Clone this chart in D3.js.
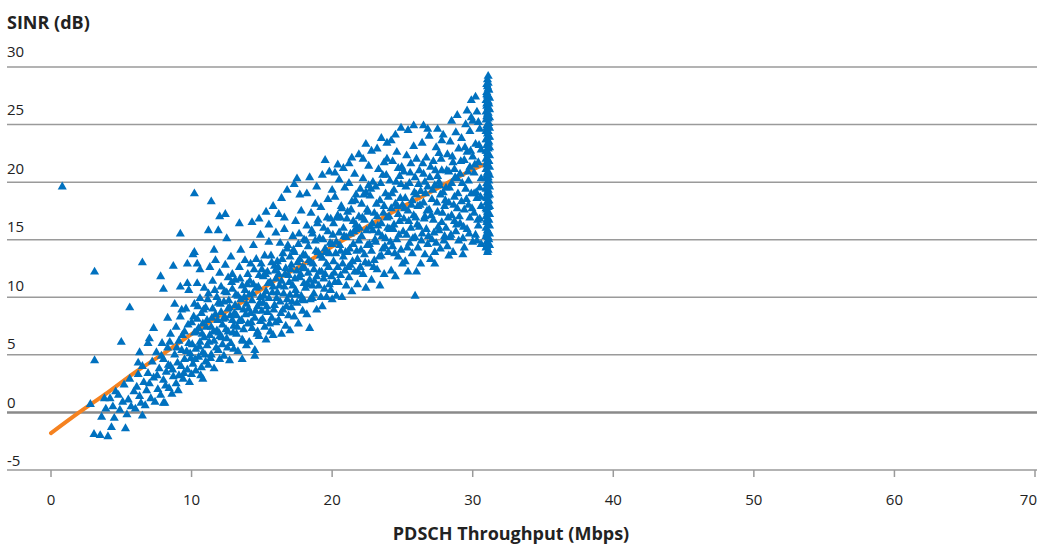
<!DOCTYPE html>
<html>
<head>
<meta charset="utf-8">
<script src="https://cdn.jsdelivr.net/npm/d3@7"></script>
<style>
  body { margin: 0; background: #fff; }
  text { font-family: "Open Sans", "Noto Sans", sans-serif; fill: #222; }
</style>
</head>
<body>
<script>
// tick labels
var xTicks = [0, 10, 20, 30, 40, 50, 60, 70];
var yTicks = [-5, 0, 5, 10, 15, 20, 25, 30];

// scattered points, [throughput Mbps, SINR dB]
var outliers = [[0.8,19.6],[3.1,12.2],[3.1,4.5],[5.0,6.1],[5.6,9.1],[6.5,13.0],[9.2,15.5],[10.2,19.0],[25.9,10.1],
  [11.4,18.3],[12.0,17.0],[12.4,17.2],[11.2,15.8],[11.9,15.8],[12.5,15.1],[11.6,14.1]];

var lowCloud = [[2.8,0.7],[3.06,-1.9],[3.5,-2.0],[4.05,-2.1],[3.6,-0.4],[4.3,-1.3],[4.5,-0.5],[5.3,-1.4],[3.8,1.2],[4.2,1.2],
  [3.9,0.3],[4.6,1.8],[4.4,0.5],[4.9,0.2],[4.8,1.5],[5.1,0.9],[5.2,2.4],[5.5,1.1],[5.4,-0.2],[5.7,0.5],[5.9,1.8],[5.6,2.9],
  [6.0,0.3],[6.1,2.2],[6.3,1.4],[6.2,3.3],[6.4,0.8],[6.6,2.6],[6.5,4.0],[6.8,1.9],[6.7,0.6],[6.9,3.4],[7.0,2.5],[7.1,1.2],
  [7.2,4.4],[7.3,3.0],[7.4,0.9],[7.5,5.2],[7.6,2.0],[7.7,3.8],[7.8,1.5],[7.9,6.0],[8.0,2.8],[8.0,4.6],[8.1,0.8],[8.2,3.5],
  [8.3,5.6],[8.4,2.1],[8.5,6.8],[8.5,4.0],[8.6,1.6],[8.7,3.1],[8.8,5.0],[8.9,7.4],[8.9,2.5],[9.0,4.3],[9.1,6.2],[9.1,3.2],
  [9.2,8.3],[9.3,5.4],[9.4,2.9],[9.5,7.0],[9.5,4.6],[9.6,9.0],[9.7,3.7],[9.8,6.0],[9.8,10.6],[9.9,5.1],[10.0,7.8],[10.0,3.3],
  [7.8,11.8],[8.0,10.7],[8.7,12.7],[9.2,10.9],[9.7,11.2],[9.7,12.9],[10.4,12.9],[10.1,13.7],[7.0,6.4],[6.9,6.0],[6.3,5.2],
  [6.2,4.3],[6.5,-0.3],[8.0,0.8],[8.3,8.2],[8.8,9.4],[9.3,8.9],[7.3,7.3]];

var midCloud = [
  [10.1,4.2],[10.2,6.9],[10.2,9.4],[10.3,3.6],[10.3,5.5],[10.4,8.1],[10.4,11.2],[10.5,4.8],[10.5,7.3],[10.6,6.1],[10.6,9.9],
  [10.7,3.9],[10.7,8.6],[10.8,5.2],[10.8,7.7],[10.9,10.8],[10.9,6.5],[11.0,4.4],[11.0,9.1],[10.6,12.4],[10.2,13.9],[10.8,2.9],
  [11.1,5.8],[11.1,8.0],[11.2,4.1],[11.2,10.3],[11.3,6.7],[11.3,12.6],[11.4,7.4],[11.4,5.0],[11.5,9.0],[11.5,11.4],[11.6,6.2],
  [11.6,3.8],[11.7,8.5],[11.7,13.2],[11.8,7.1],[11.8,10.0],[11.9,5.4],[11.9,9.5],[12.0,6.6],[12.0,12.1],[12.0,4.6],
  [12.1,8.7],[12.1,10.9],[12.2,5.9],[12.2,7.6],[12.3,9.6],[12.3,4.9],[12.4,12.8],[12.4,8.2],[12.5,6.4],[12.5,10.4],[12.6,7.0],
  [12.6,11.7],[12.7,4.5],[12.7,9.1],[12.8,6.0],[12.8,13.5],[12.9,8.0],[12.9,10.7],[13.0,5.5],[13.0,7.5],[12.9,12.0],[12.6,9.0],
  [13.1,9.3],[13.1,11.5],[13.2,6.8],[13.2,8.4],[13.3,10.1],[13.3,5.3],[13.4,12.6],[13.4,7.9],[13.5,9.8],[13.5,14.1],[13.6,6.3],
  [13.6,11.0],[13.7,8.9],[13.7,7.2],[13.8,10.6],[13.8,13.2],[13.9,5.8],[13.9,9.4],[14.0,12.0],[14.0,7.7],[13.4,16.4],[13.6,4.6],
  [14.1,10.2],[14.1,6.1],[14.2,8.6],[14.2,12.9],[14.3,9.7],[14.3,7.3],[14.4,11.1],[14.4,14.5],[14.5,5.4],[14.5,8.2],[14.6,10.8],
  [14.6,13.3],[14.7,7.0],[14.7,9.2],[14.8,11.9],[14.8,6.6],[14.9,10.0],[14.9,15.4],[15.0,8.8],[15.0,12.4],[14.3,16.5],[14.8,16.8],[14.5,4.9],[14.9,7.9],
  [15.1,9.5],[15.1,11.8],[15.2,7.4],[15.2,13.6],[15.3,10.5],[15.3,6.3],[15.4,8.7],[15.4,12.2],[15.5,14.8],[15.5,9.9],[15.6,7.0],
  [15.6,11.3],[15.7,13.0],[15.7,8.2],[15.8,10.9],[15.8,6.7],[15.9,12.7],[15.9,9.3],[16.0,15.6],[16.0,11.6],[15.3,17.4],[15.8,17.9],[15.5,16.3],[16.0,7.8],
  [16.1,10.4],[16.1,13.1],[16.2,8.0],[16.2,12.0],[16.3,14.7],[16.3,9.6],[16.4,6.8],[16.4,11.4],[16.5,13.8],[16.5,8.9],[16.6,10.9],
  [16.6,15.9],[16.7,7.5],[16.7,12.5],[16.8,9.8],[16.8,14.2],[16.9,11.9],[16.9,8.4],[17.0,13.5],[17.0,10.2],[16.4,18.6],[16.8,19.3],[16.2,17.2],[16.6,16.9],[17.0,7.1],
  [17.1,12.8],[17.1,9.1],[17.2,15.3],[17.2,11.0],[17.3,8.3],[17.3,13.9],[17.4,10.6],[17.4,16.6],[17.5,12.3],[17.5,9.5],[17.6,14.6],
  [17.6,7.7],[17.7,11.7],[17.7,13.3],[17.8,10.1],[17.8,17.5],[17.9,12.6],[17.9,8.8],[18.0,15.0],[18.0,11.2],[17.3,19.8],[17.7,18.9],[17.5,20.3],[18.0,9.7],
  [18.1,13.6],[18.1,10.8],[18.2,16.2],[18.2,8.5],[18.3,12.1],[18.3,14.4],[18.4,7.3],[18.4,11.5],[18.5,17.3],[18.5,13.0],[18.6,9.9],
  [18.6,15.5],[18.7,12.4],[18.7,10.3],[18.8,14.9],[18.8,18.1],[18.9,11.8],[18.9,8.9],[19.0,13.9],[19.0,16.7],[18.4,20.4],[18.9,19.6],[18.2,19.0],[18.6,11.0],
  [19.1,12.2],[19.1,15.1],[19.2,10.0],[19.2,17.8],[19.3,13.4],[19.3,9.2],[19.4,16.0],[19.4,11.6],[19.5,21.9],[19.5,14.2],[19.6,10.0],
  [19.6,12.9],[19.7,18.5],[19.7,15.7],[19.8,11.1],[19.8,13.8],[19.9,16.8],[19.9,10.6],[20.0,14.6],[20.0,19.3],[19.3,20.6],[19.8,20.9],[19.5,12.0],[20.0,9.8]];

var highCloud = [
  [20.1,13.1],[20.1,16.4],[20.2,11.3],[20.2,18.7],[20.3,14.8],[20.3,10.1],[20.4,17.1],[20.4,12.6],[20.5,15.6],[20.5,20.2],[20.6,11.9],
  [20.6,14.0],[20.7,17.7],[20.7,10.0],[20.8,13.5],[20.8,16.0],[20.9,19.5],[20.9,12.3],[21.0,15.2],[21.0,11.0],[20.4,21.5],[20.8,21.2],[20.2,20.8],[20.6,16.9],
  [21.1,13.9],[21.1,17.4],[21.2,11.7],[21.2,19.9],[21.3,15.5],[21.3,12.8],[21.4,18.3],[21.4,10.5],[21.5,14.6],[21.5,16.6],[21.6,20.7],
  [21.6,12.2],[21.7,15.9],[21.7,18.9],[21.8,13.3],[21.8,11.1],[21.9,17.0],[21.9,14.9],[22.0,19.4],[22.0,12.6],[21.4,22.1],[21.9,22.4],[21.2,21.6],[21.7,16.3],
  [22.1,15.3],[22.1,18.1],[22.2,12.0],[22.2,20.3],[22.3,16.7],[22.3,13.7],[22.4,10.8],[22.4,19.1],[22.5,14.5],[22.5,17.6],[22.6,21.4],
  [22.6,12.9],[22.7,16.1],[22.7,18.8],[22.8,14.0],[22.8,11.5],[22.9,20.0],[22.9,15.8],[23.0,17.3],[23.0,13.2],[22.4,23.3],[22.8,22.7],[22.2,22.0],[22.6,19.7],
  [23.1,14.8],[23.1,19.6],[23.2,12.4],[23.2,17.0],[23.3,21.1],[23.3,15.6],[23.4,11.0],[23.4,18.4],[23.5,13.6],[23.5,16.4],[23.6,20.6],
  [23.6,14.2],[23.7,17.9],[23.7,12.0],[23.8,19.0],[23.8,15.1],[23.9,22.0],[23.9,16.9],[24.0,13.9],[24.0,18.7],[23.5,23.8],[23.9,23.4],[23.2,22.9],[23.7,21.7],
  [24.1,15.9],[24.1,20.1],[24.2,12.3],[24.2,17.7],[24.3,14.4],[24.3,21.8],[24.4,16.3],[24.4,19.3],[24.5,11.8],[24.5,18.1],[24.6,15.0],
  [24.6,22.6],[24.7,17.2],[24.7,13.5],[24.8,20.5],[24.8,16.6],[24.9,14.1],[24.9,19.8],[25.0,18.0],[25.0,12.9],[24.5,24.1],[24.9,24.7],[24.2,23.6],[24.7,21.2],
  [25.1,16.8],[25.1,20.9],[25.2,13.1],[25.2,18.6],[25.3,15.4],[25.3,22.3],[25.4,17.5],[25.4,12.2],[25.5,19.9],[25.5,14.7],[25.6,21.6],
  [25.6,16.0],[25.7,18.4],[25.7,13.8],[25.8,23.1],[25.8,17.1],[25.9,15.2],[25.9,20.4],[26.0,12.2],[26.0,18.9],[25.4,24.5],[25.8,24.9],[26.0,22.0],
  [26.1,17.9],[26.1,14.3],[26.2,21.0],[26.2,16.1],[26.3,19.2],[26.3,12.9],[26.4,23.4],[26.4,15.5],[26.5,18.2],[26.5,20.7],[26.6,13.7],
  [26.6,17.0],[26.7,22.1],[26.7,15.9],[26.8,19.6],[26.8,14.6],[26.9,24.0],[26.9,17.6],[27.0,21.3],[27.0,13.3],[26.5,24.9],[26.8,24.6],[26.6,20.0],
  [27.1,18.5],[27.1,15.0],[27.2,21.8],[27.2,16.7],[27.3,19.7],[27.3,13.9],[27.4,23.0],[27.4,14.7],[27.5,17.4],[27.5,20.5],[27.6,15.8],
  [27.6,22.5],[27.7,18.9],[27.7,14.2],[27.8,21.0],[27.8,16.5],[27.9,24.1],[27.9,19.1],[28.0,15.3],[28.0,17.9],[27.5,24.6],[27.8,23.6],[27.3,12.9],[27.6,20.0],
  [28.1,19.5],[28.1,16.0],[28.2,22.4],[28.2,14.4],[28.3,18.2],[28.3,20.9],[28.4,15.2],[28.4,23.5],[28.5,17.1],[28.5,19.9],[28.6,13.9],
  [28.6,21.7],[28.7,16.6],[28.7,18.7],[28.8,24.3],[28.8,15.7],[28.9,20.3],[28.9,17.7],[29.0,22.9],[29.0,14.9],[28.5,25.3],[28.9,25.8],[28.3,13.6],[28.7,21.1],
  [29.1,20.7],[29.1,16.4],[29.2,23.8],[29.2,18.3],[29.3,15.1],[29.3,13.7],[29.4,21.9],[29.4,17.6],[29.5,19.4],[29.5,25.0],[29.6,15.9],
  [29.6,22.6],[29.7,18.0],[29.7,20.1],[29.8,24.4],[29.8,16.9],[29.9,27.1],[29.9,19.0],[30.0,14.8],[30.0,22.2],[29.6,26.2],[29.9,25.6],[29.4,14.3],[29.8,21.3],
  [30.1,17.3],[30.1,20.8],[30.2,15.4],[30.2,23.3],[30.3,18.6],[30.3,26.1],[30.4,16.2],[30.4,21.7],[30.5,19.5],[30.5,24.6],[30.6,14.6],
  [30.6,22.8],[30.2,27.4],[30.4,25.2],[30.6,17.9],[30.1,19.0],[30.3,14.9],[30.5,16.8],[30.6,20.3],[30.0,25.3]];

// denser core of the cloud, close to the trend
var coreCloud = [
  [7.55,3.2],[7.85,4.9],[8.15,2.3],[8.35,4.1],[8.45,6.1],[8.65,3.7],[8.95,5.6],[9.05,1.9],[9.25,4.0],[9.35,6.7],[9.45,3.4],
  [9.65,5.3],[9.75,7.6],[9.85,2.6],[9.95,4.7],
  [10.05,5.9],[10.15,8.3],[10.25,4.6],[10.35,7.0],[10.45,9.2],[10.55,5.7],[10.65,3.2],[10.75,6.8],[10.85,8.9],[10.95,5.0],
  [11.05,7.4],[11.15,9.8],[11.25,6.1],[11.35,4.7],[11.45,8.2],[11.55,7.0],[11.65,10.6],[11.75,5.6],[11.85,8.0],[11.95,6.9],
  [12.05,9.4],[12.15,6.5],[12.25,8.1],[12.35,10.5],[12.45,7.2],[12.55,5.6],[12.65,9.7],[12.75,8.4],[12.85,11.3],[12.95,6.9],
  [13.05,8.6],[13.15,10.2],[13.25,7.4],[13.35,9.1],[13.45,11.6],[13.55,8.0],[13.65,6.2],[13.75,10.0],[13.85,8.5],[13.95,11.1],
  [14.05,9.0],[14.15,11.4],[14.25,7.8],[14.35,10.3],[14.45,12.4],[14.55,8.8],[14.65,6.8],[14.75,10.9],[14.85,9.5],[14.95,12.9],
  [15.05,8.1],[15.15,10.1],[15.25,12.0],[15.35,9.2],[15.45,11.2],[15.55,7.7],[15.65,13.6],[15.75,10.4],[15.85,8.9],[15.95,12.3],
  [16.05,9.9],[16.15,12.6],[16.25,11.0],[16.35,8.6],[16.45,13.3],[16.55,10.3],[16.65,12.0],[16.75,9.2],[16.85,14.5],[16.95,11.3],
  [17.05,12.4],[17.15,9.6],[17.25,14.1],[17.35,11.6],[17.45,10.2],[17.55,13.0],[17.65,15.5],[17.75,12.0],[17.85,9.8],[17.95,13.7],
  [18.05,12.5],[18.15,14.9],[18.25,11.1],[18.35,13.2],[18.45,9.8],[18.55,15.8],[18.65,12.9],[18.75,11.4],[18.85,14.0],[18.95,16.4],
  [19.05,11.0],[19.15,13.6],[19.25,12.2],[19.35,15.0],[19.45,10.7],[19.55,13.9],[19.65,16.9],[19.75,12.6],[19.85,14.7],[19.95,11.8],
  [20.05,15.4],[20.15,12.1],[20.25,13.8],[20.35,16.9],[20.45,11.3],[20.55,14.5],[20.65,17.9],[20.75,12.9],[20.85,15.3],[20.95,13.9],
  [21.05,16.8],[21.15,12.6],[21.25,14.2],[21.35,17.6],[21.45,13.1],[21.55,15.7],[21.65,18.4],[21.75,14.0],[21.85,12.2],[21.95,16.0],
  [22.05,14.1],[22.15,16.9],[22.25,18.9],[22.35,13.0],[22.45,15.8],[22.55,17.4],[22.65,14.6],[22.75,19.4],[22.85,16.4],[22.95,12.6],
  [23.05,15.0],[23.15,18.1],[23.25,16.2],[23.35,13.5],[23.45,19.9],[23.55,15.3],[23.65,17.3],[23.75,14.4],[23.85,20.6],[23.95,16.0],
  [24.05,17.0],[24.15,14.8],[24.25,19.0],[24.35,15.9],[24.45,13.8],[24.55,20.0],[24.65,17.9],[24.75,15.4],[24.85,18.6],[24.95,21.3],
  [25.05,15.7],[25.15,17.7],[25.25,19.6],[25.35,14.3],[25.45,16.6],[25.55,20.8],[25.65,18.0],[25.75,15.1],[25.85,19.1],[25.95,16.9],
  [26.05,16.3],[26.15,19.8],[26.25,18.0],[26.35,14.9],[26.45,21.6],[26.55,16.8],[26.65,19.0],[26.75,17.5],[26.85,15.3],[26.95,20.4],
  [27.05,17.1],[27.15,19.3],[27.25,15.6],[27.35,21.0],[27.45,18.2],[27.55,16.1],[27.65,19.7],[27.75,22.0],[27.85,17.3],[27.95,14.9],
  [28.05,18.4],[28.15,21.0],[28.25,16.9],[28.35,19.5],[28.45,15.4],[28.55,22.2],[28.65,18.0],[28.75,20.4],[28.85,16.3],[28.95,19.0],
  [29.05,17.0],[29.15,21.8],[29.25,19.9],[29.35,16.1],[29.45,23.0],[29.55,18.5],[29.65,20.9],[29.75,15.5],[29.85,22.7],[29.95,17.7],
  [30.15,21.5],[30.25,19.1],[30.35,16.7],[30.45,23.2],[30.55,18.7]];

// the saturated column near peak throughput
var peakColumn = [
  [31.05,13.9],[30.95,14.3],[31.2,14.5],[31.0,14.8],[31.15,15.0],[30.95,15.3],[31.2,15.5],[31.05,15.8],[30.95,16.0],[31.2,16.2],
  [31.0,16.5],[31.15,16.7],[30.95,17.0],[31.2,17.2],[31.05,17.4],[30.95,17.7],[31.2,17.9],[31.0,18.2],[31.15,18.4],[30.95,18.7],
  [31.2,18.9],[31.05,19.1],[30.95,19.4],[31.2,19.6],[31.0,19.9],[31.15,20.1],[30.95,20.3],[31.2,20.6],[31.05,20.8],[30.95,21.1],
  [31.2,21.3],[31.0,21.5],[31.15,21.8],[30.95,22.0],[31.2,22.3],[31.05,22.5],[30.95,22.7],[31.2,23.0],[31.0,23.2],[31.15,23.5],
  [30.95,23.7],[31.2,23.9],[31.05,24.2],[30.95,24.4],[31.2,24.7],[31.0,24.9],[31.15,25.1],[30.95,25.4],[31.2,25.6],[31.05,25.9],
  [30.95,26.1],[31.2,26.3],[31.0,26.6],[31.15,26.8],[30.95,27.1],[31.2,27.3],[31.05,27.5],[31.0,27.8],[31.15,28.0],[31.05,28.3],
  [31.1,28.6],[31.05,28.9],[31.1,29.2],
  [31.1,14.1],[31.1,14.7],[31.1,15.2],[31.1,15.7],[31.1,16.3],[31.1,16.8],[31.1,17.3],[31.1,17.8],[31.1,18.3],[31.1,18.8],
  [31.1,19.3],[31.1,19.8],[31.1,20.4],[31.1,20.9],[31.1,21.4],[31.1,21.9],[31.1,22.4],[31.1,22.9],[31.1,23.4],[31.1,23.9],
  [31.1,24.4],[31.1,24.9],[31.1,25.5],[31.1,26.0],[31.1,26.5],[31.1,27.0],[31.1,27.5],[31.1,28.1],
  [31.0,14.4],[31.0,15.5],[31.0,16.7],[31.0,17.6],[31.0,18.6],[31.0,19.6],[31.0,20.6],[31.0,21.7],[31.0,22.7],[31.0,23.7],
  [31.0,24.7],[31.0,25.7],[31.0,26.8],[31.0,27.6],[31.0,28.5]];

// trend line
var trendT = [0, 2, 4, 6, 8, 10, 12, 14, 16, 18, 20, 22, 24, 26, 28, 30, 30.7];
var trendS = [-1.8, 0.0, 1.7, 3.5, 5.1, 6.8, 8.4, 9.9, 11.5, 12.9, 14.4, 15.8, 17.2, 18.5, 19.8, 21.1, 21.5];

var width = 1037, height = 544;

var x = d3.scaleLinear().domain([0, 70]).range([51, 1035]);
var y = d3.scaleLinear().domain([-5, 30]).range([470, 67]);
// y tick label baselines sit a little off the grid lines
var yLabel = d3.scaleLinear().domain([-5, 30]).range([466, 57]);

var svg = d3.select("body").append("svg")
    .attr("width", width)
    .attr("height", height);

// horizontal grid
svg.append("g").selectAll("line")
    .data(yTicks)
  .enter().append("line")
    .attr("x1", 7)
    .attr("x2", 1037)
    .attr("y1", function(d) { return y(d); })
    .attr("y2", function(d) { return y(d); })
    .style("stroke", function(d) { return d === 0 ? "#8a8a8a" : "#9a9a9a"; })
    .style("stroke-width", function(d) { return d === 0 ? 2.5 : 1.5; });

svg.append("g").selectAll("text")
    .data(yTicks)
  .enter().append("text")
    .attr("x", 7)
    .attr("y", function(d) { return yLabel(d); })
    .style("font-size", "15px")
    .text(function(d) { return d; });

// x ticks
svg.append("g").selectAll("line")
    .data(xTicks)
  .enter().append("line")
    .attr("x1", function(d) { return x(d); })
    .attr("x2", function(d) { return x(d); })
    .attr("y1", y(-5))
    .attr("y2", y(-5) + 7)
    .style("stroke", "#9a9a9a")
    .style("stroke-width", 1.5);

svg.append("g").selectAll("text")
    .data(xTicks)
  .enter().append("text")
    .attr("x", function(d) { return d === 70 ? 1037 : x(d); })
    .attr("y", 505)
    .attr("text-anchor", function(d) { return d === 70 ? "end" : "middle"; })
    .style("font-size", "15px")
    .text(function(d) { return d; });

svg.append("text")
    .attr("x", 7)
    .attr("y", 29)
    .style("font-size", "18px")
    .style("font-weight", "bold")
    .text("SINR (dB)");

svg.append("text")
    .attr("x", 511)
    .attr("y", 540)
    .attr("text-anchor", "middle")
    .style("font-size", "18px")
    .style("font-weight", "bold")
    .text("PDSCH Throughput (Mbps)");

// trend line
var line = d3.line()
    .x(function(d) { return x(d[0]); })
    .y(function(d) { return y(d[1]); })
    .curve(d3.curveMonotoneX);

svg.append("path")
    .datum(d3.zip(trendT, trendS))
    .attr("d", line)
    .style("fill", "none")
    .style("stroke", "#F58220")
    .style("stroke-width", 4)
    .style("stroke-linecap", "round");

// points
var points = outliers.concat(lowCloud, midCloud, highCloud, coreCloud, peakColumn);
var tri = d3.symbol().type(d3.symbolTriangle).size(36);

svg.append("g").selectAll("path")
    .data(points)
  .enter().append("path")
    .attr("d", tri)
    .attr("transform", function(d) { return "translate(" + x(d[0]) + "," + y(d[1]) + ")"; })
    .style("fill", "#0071BF");
</script>
</body>
</html>
